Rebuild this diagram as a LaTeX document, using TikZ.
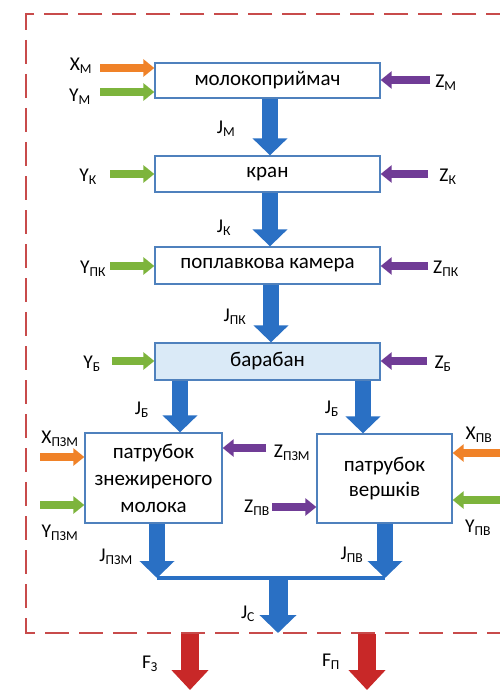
\documentclass[tikz,border=0pt]{standalone}
\usepackage{fontspec}
\setmainfont{Carlito}
\usetikzlibrary{arrows.meta,calc}
\definecolor{bboxc}{RGB}{79,129,189}
\definecolor{flowc}{RGB}{42,112,196}
\definecolor{orangec}{RGB}{240,130,40}
\definecolor{greenc}{RGB}{125,180,60}
\definecolor{purplec}{RGB}{112,60,150}
\definecolor{redc}{RGB}{200,40,40}
\definecolor{framec}{RGB}{200,75,75}
\definecolor{drumc}{RGB}{218,234,247}
\begin{document}
\begin{tikzpicture}[x=1pt,y=-1pt,
  box/.style={draw=bboxc,line width=1.3pt,fill=white,inner sep=0pt,
    font=\fontsize{21}{27}\selectfont,align=center},
  lbl/.style={font=\fontsize{19.5}{22}\selectfont,inner sep=0pt},
  flow/.style={draw=flowc,line width=16pt,-{Triangle[width=34pt,length=17pt]}},
  bigflow/.style={draw=flowc,line width=19pt,-{Triangle[width=36pt,length=18pt]}},
  outflow/.style={draw=redc,line width=18pt,-{Triangle[width=36pt,length=20pt]}},
  side/.style={line width=8pt,-{Triangle[width=17pt,length=11pt]}},
  frame/.style={draw=framec,line width=2pt,dash pattern=on 24pt off 10pt}
]
\useasboundingbox (0,0) rectangle (500,690);

% frame
\draw[frame] (510,14) -- (26,14) -- (26,633) -- (510,633);

% boxes
\node[box,minimum width=225pt,minimum height=35pt] (b1) at (267.5,80.5) {молокоприймач};
\node[box,minimum width=225pt,minimum height=36pt] (b2) at (267.5,174) {кран};
\node[box,minimum width=225pt,minimum height=37pt] (b3) at (267.5,265.5) {поплавкова камера};
\node[box,fill=drumc,minimum width=225pt,minimum height=37pt] (b4) at (267.5,361.5) {барабан};
\node[box,minimum width=137pt,minimum height=90pt] (b5) at (153.5,478) {патрубок\\знежиреного\\молока};
\node[box,minimum width=135pt,minimum height=89pt,font=\fontsize{21}{25}\selectfont] (b6) at (384.5,478.5) {патрубок\\вершків};

% coordinates
\coordinate (jl) at (157,578);
\coordinate (jr) at (385,578);
\coordinate (jc) at (278,578);
\coordinate (jo) at (278,633);
\coordinate (f3s) at (190,634);
\coordinate (f3e) at (190,690);
\coordinate (fps) at (367,634);
\coordinate (fpe) at (367,690);
\coordinate (xmS) at (100,68);
\coordinate (ymS) at (100,92);
\coordinate (zmS) at (430,80);
\coordinate (ykS) at (110,174);
\coordinate (zkS) at (428,174);
\coordinate (ypkS) at (110,266);
\coordinate (zpkS) at (428,266);
\coordinate (ybS) at (112,361);
\coordinate (zbS) at (427,361);
\coordinate (xpzmS) at (40,457);
\coordinate (ypzmS) at (40,505);
\coordinate (zpzmS) at (266,448);
\coordinate (zpvS) at (272,507);
\coordinate (xpvS) at (500,453);
\coordinate (ypvS) at (500,500);

% main flow
\draw[flow] (b1.south -| 270,0) -- (b2.north -| 270,0);
\draw[flow] (b2.south -| 270,0) -- (b3.north -| 270,0);
\draw[flow] (b3.south -| 271,0) -- (b4.north -| 271,0);
\draw[flow] (b4.south -| 180,0) -- (b5.north -| 180,0);
\draw[flow] (b4.south -| 363,0) -- (b6.north -| 363,0);
\draw[flowc,line width=3.5pt] (jl) -- (jr);
\draw[flow] (b5.south -| jl) -- (jl);
\draw[flow] (b6.south -| jr) -- (jr);
\draw[bigflow] (jc) -- (jo);
\draw[outflow] (f3s) -- (f3e);
\draw[outflow] (fps) -- (fpe);

% side inputs
\draw[side,draw=orangec] (xmS) -- (b1.west |- xmS);
\draw[side,draw=greenc] (ymS) -- (b1.west |- ymS);
\draw[side,draw=purplec] (zmS) -- (b1.east |- zmS);
\draw[side,draw=greenc] (ykS) -- (b2.west |- ykS);
\draw[side,draw=purplec] (zkS) -- (b2.east |- zkS);
\draw[side,draw=greenc] (ypkS) -- (b3.west |- ypkS);
\draw[side,draw=purplec] (zpkS) -- (b3.east |- zpkS);
\draw[side,draw=greenc] (ybS) -- (b4.west |- ybS);
\draw[side,draw=purplec] (zbS) -- (b4.east |- zbS);
\draw[side,draw=orangec] (xpzmS) -- (b5.west |- xpzmS);
\draw[side,draw=greenc] (ypzmS) -- (b5.west |- ypzmS);
\draw[side,draw=purplec] (zpzmS) -- (b5.east |- zpzmS);
\draw[side,draw=purplec] (zpvS) -- (b6.west |- zpvS);
\draw[side,draw=orangec] (xpvS) -- (b6.east |- xpvS);
\draw[side,draw=greenc] (ypvS) -- (b6.east |- ypvS);

% labels
\node[lbl] (lxm) at (81,66) {X\textsubscript{М}};
\node[lbl] (lym) at (80,97) {Y\textsubscript{М}};
\node[lbl] (lzm) at (446,83) {Z\textsubscript{М}};
\node[lbl] (lyk) at (88,177) {Y\textsubscript{К}};
\node[lbl] (lzk) at (448,177) {Z\textsubscript{К}};
\node[lbl] (lypk) at (93,269) {Y\textsubscript{ПК}};
\node[lbl] (lzpk) at (446,269) {Z\textsubscript{ПК}};
\node[lbl] (lyb) at (92,364) {Y\textsubscript{Б}};
\node[lbl] (lzb) at (443,364) {Z\textsubscript{Б}};
\node[lbl] (ljm) at (226,129) {J\textsubscript{М}};
\node[lbl] (ljk) at (224,228) {J\textsubscript{К}};
\node[lbl] (ljpk) at (235,317) {J\textsubscript{ПК}};
\node[lbl] (ljbl) at (142,410) {J\textsubscript{Б}};
\node[lbl] (ljbr) at (332,409) {J\textsubscript{Б}};
\node[lbl] (lxpzm) at (60,439) {X\textsubscript{ПЗМ}};
\node[lbl] (lypzm) at (60,533) {Y\textsubscript{ПЗМ}};
\node[lbl] (lzpzm) at (292,453) {Z\textsubscript{ПЗМ}};
\node[lbl] (lzpv) at (257,508) {Z\textsubscript{ПВ}};
\node[lbl] (lxpv) at (479,435) {X\textsubscript{ПВ}};
\node[lbl] (lypv) at (478,528) {Y\textsubscript{ПВ}};
\node[lbl] (ljpzm) at (116,557) {J\textsubscript{ПЗМ}};
\node[lbl] (ljpv) at (352,555) {J\textsubscript{ПВ}};
\node[lbl] (ljc) at (248,614) {J\textsubscript{С}};
\node[lbl] (lf3) at (150,664) {F\textsubscript{З}};
\node[lbl] (lfp) at (331,662) {F\textsubscript{П}};
\end{tikzpicture}
\end{document}
